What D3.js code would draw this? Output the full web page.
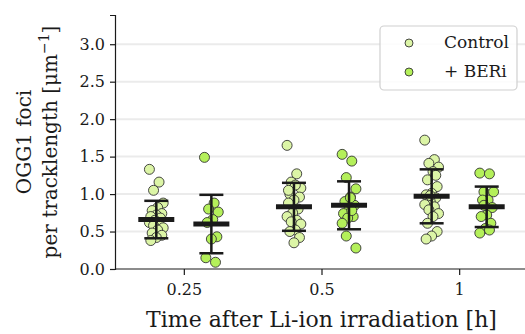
<!DOCTYPE html>
<html>
<head>
<meta charset="utf-8">
<script src="https://cdn.jsdelivr.net/npm/d3@7"></script>
<style>
  body { margin: 0; background: #fff; }
  svg { font-family: "DejaVu Serif", serif; }
</style>
</head>
<body>
<svg id="chart" width="525" height="334"></svg>
<script>
// data
const categories = ['0.25', '0.5', '1'];
const series = ['Control', '+ BERi'];

const control025 = [1.33, 1.16, 1.05, 0.88, 0.82, 0.78, 0.74, 0.72, 0.70, 0.68, 0.65, 0.62, 0.60, 0.58, 0.55, 0.52, 0.48, 0.45, 0.42, 0.38];
const beri025 = [1.49, 0.88, 0.80, 0.76, 0.66, 0.62, 0.43, 0.40, 0.15, 0.09];
const control05 = [1.65, 1.27, 1.16, 1.08, 1.12, 1.00, 0.96, 0.92, 0.88, 0.80, 0.75, 0.70, 0.65, 0.63, 0.60, 0.52, 0.50, 0.42, 0.35, 1.05];
const beri05 = [1.53, 1.44, 1.22, 1.07, 0.96, 0.90, 0.85, 0.81, 0.74, 0.70, 0.68, 0.61, 0.78, 0.44, 0.28, 0.95];
const control1 = [1.72, 1.46, 1.41, 1.36, 1.30, 1.19, 1.10, 1.01, 0.99, 0.95, 0.90, 0.86, 0.83, 0.79, 0.74, 0.70, 0.61, 0.50, 0.44, 0.40, 1.25, 0.98];
const beri1 = [1.28, 1.27, 1.03, 1.03, 0.92, 0.92, 0.82, 0.72, 0.70, 0.61, 0.54, 0.48, 0.52, 0.85];

const controlMean = [0.66, 0.83, 0.97];
const controlSd = [0.25, 0.32, 0.36];
const beriMean = [0.60, 0.85, 0.83];
const beriSd = [0.39, 0.32, 0.27];

const yTicks = [0, 0.5, 1.0, 1.5, 2.0, 2.5, 3.0];

const points = [
  { cat: '0.25', s: 0, vals: control025 },
  { cat: '0.25', s: 1, vals: beri025 },
  { cat: '0.5', s: 0, vals: control05 },
  { cat: '0.5', s: 1, vals: beri05 },
  { cat: '1', s: 0, vals: control1 },
  { cat: '1', s: 1, vals: beri1 }
];

const colors = ['#dcf5a6', '#b4f05a'];

const margins = { left: 115, top: 15, right: -3, bottom: 65 };
const width = 525, height = 334;

const svg = d3.select('#chart');

const x = d3.scalePoint()
  .domain(categories)
  .range([margins.left, width - margins.right])
  .padding(0.5);

const y = d3.scaleLinear()
  .domain([0, 3.39])
  .range([height - margins.bottom, margins.top]);

const dodge = x.step() * 0.2;
const jitter = x.step() * 0.05;

// grid
svg.append('g')
  .selectAll('line')
  .data(yTicks.slice(1))
  .join('line')
  .attr('x1', margins.left)
  .attr('x2', width)
  .attr('y1', d => y(d))
  .attr('y2', d => y(d))
  .style('stroke', '#ebebeb')
  .style('stroke-width', 2);

// points
const pts = [];
points.forEach(g => {
  g.vals.forEach((v, i) => {
    const j = (((i * 7) % 11) - 5) / 5;
    pts.push({ cx: x(g.cat) + (g.s ? dodge : -dodge) + j * jitter, v, s: g.s });
  });
});

svg.append('g')
  .selectAll('circle')
  .data(pts)
  .join('circle')
  .attr('cx', d => d.cx)
  .attr('cy', d => y(d.v))
  .attr('r', 5)
  .style('fill', d => colors[d.s])
  .style('stroke', '#333')
  .style('stroke-width', 0.9);

// error bars and means
const stats = [];
categories.forEach((c, i) => {
  stats.push({ cat: c, off: -dodge, m: controlMean[i], sd: controlSd[i] });
  stats.push({ cat: c, off: dodge, m: beriMean[i], sd: beriSd[i] });
});

const eb = svg.append('g').style('stroke', '#1a1a1a');
stats.forEach(d => {
  const cx = x(d.cat) + d.off;
  eb.append('line')
    .attr('x1', cx).attr('x2', cx)
    .attr('y1', y(d.m - d.sd)).attr('y2', y(d.m + d.sd))
    .style('stroke-width', 2.5);
  [d.m - d.sd, d.m + d.sd].forEach(v => {
    eb.append('line')
      .attr('x1', cx - 12).attr('x2', cx + 12)
      .attr('y1', y(v)).attr('y2', y(v))
      .style('stroke-width', 2.5);
  });
  eb.append('line')
    .attr('x1', cx - 18).attr('x2', cx + 18)
    .attr('y1', y(d.m)).attr('y2', y(d.m))
    .style('stroke-width', 5);
});

// axes
const xAxis = d3.axisBottom(x).tickSizeOuter(0).tickSize(6).tickPadding(9);
const xg = svg.append('g')
  .attr('transform', `translate(0, ${height - margins.bottom})`)
  .call(xAxis);
xg.select('.domain').attr('d', `M${margins.left},0H${width}`);

const yAxis = d3.axisLeft(y).tickValues(yTicks).tickFormat(d3.format('.1f')).tickSizeOuter(0).tickSize(5).tickPadding(5);
const yg = svg.append('g')
  .attr('transform', `translate(${margins.left}, 0)`)
  .call(yAxis);

[xg, yg].forEach(g => {
  g.selectAll('text').style('font-size', '16px').style('font-family', '"DejaVu Serif", serif').attr('fill', '#1a1a1a');
  g.selectAll('line, path').style('stroke', '#1a1a1a').style('stroke-width', 1.2);
});

// labels
svg.append('text')
  .attr('x', margins.left + 0.5 * (x.range()[1] - margins.left))
  .attr('y', 327)
  .style('text-anchor', 'middle')
  .style('font-size', '22px')
  .attr('fill', '#1a1a1a')
  .text('Time after Li-ion irradiation [h]');

const yl = svg.append('text')
  .attr('transform', `translate(0, ${(margins.top + height - margins.bottom) / 2}) rotate(-90)`)
  .style('text-anchor', 'middle')
  .style('font-size', '20px')
  .attr('fill', '#1a1a1a');
yl.append('tspan').attr('x', 0).attr('y', 31).text('OGG1 foci');
const l2 = yl.append('tspan').attr('x', 0).attr('y', 57).text('per tracklength [μm');
l2.append('tspan').attr('dy', -8).style('font-size', '14px').text('−1');
l2.append('tspan').attr('dy', 8).text(']');

// legend
const lg = svg.append('g');
lg.append('rect')
  .attr('x', 380).attr('y', 26).attr('width', 137).attr('height', 64)
  .attr('rx', 4)
  .style('fill', '#fff').style('fill-opacity', 0.85)
  .style('stroke', '#d0d0d0').style('stroke-width', 1.2);
series.forEach((s, i) => {
  lg.append('circle')
    .attr('cx', 409).attr('cy', 43 + i * 29).attr('r', 4)
    .style('fill', colors[i]).style('stroke', '#333').style('stroke-width', 0.9);
  lg.append('text')
    .attr('x', 444).attr('y', 48 + i * 29)
    .style('font-size', '17px').attr('fill', '#1a1a1a')
    .text(s);
});
</script>
</body>
</html>
